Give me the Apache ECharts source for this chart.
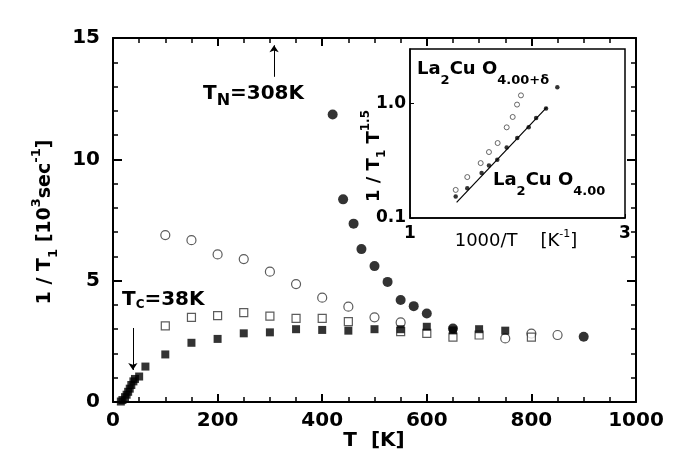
<!DOCTYPE html>
<html><head><meta charset="utf-8">
<script src="https://cdn.jsdelivr.net/npm/echarts@6/dist/echarts.min.js"></script>
<style>html,body{margin:0;padding:0;background:#fff}.layer{position:absolute;left:0;top:0;width:686px;height:467px}#axes{pointer-events:none}</style>
</head><body><div id="data" class="layer"></div><div id="axes" class="layer"></div>
<script>
// ---- main panel data (T in K, 1/T1 in 10^3 s^-1) ----
const filledCircleT = [420, 440, 460, 475, 500, 525, 550, 575, 600, 650, 900];
const filledCircleV = [11.85, 8.35, 7.35, 6.3, 5.6, 4.95, 4.2, 3.95, 3.65, 3.03, 2.69];
const openCircleT = [100, 150, 200, 250, 300, 350, 400, 450, 500, 550, 750, 800, 850];
const openCircleV = [6.88, 6.67, 6.08, 5.89, 5.37, 4.86, 4.30, 3.93, 3.49, 3.28, 2.62, 2.82, 2.76];
const openSquareT = [100, 150, 200, 250, 300, 350, 400, 450, 550, 600, 650, 700, 800];
const openSquareV = [3.14, 3.49, 3.56, 3.68, 3.54, 3.45, 3.45, 3.31, 2.9, 2.83, 2.67, 2.76, 2.67];
const filledSquareT = [15, 18, 23, 26, 29, 32, 35, 39, 42, 50, 62, 100, 150, 200, 250, 300, 350, 400, 450, 500, 550, 600, 650, 700, 750];
const filledSquareV = [0.02, 0.08, 0.2, 0.3, 0.42, 0.55, 0.7, 0.85, 0.95, 1.05, 1.46, 1.96, 2.44, 2.6, 2.83, 2.87, 3.0, 2.97, 2.94, 3.0, 3.0, 3.1, 2.95, 3.0, 2.94];
// ---- inset data (1000/T, 1/T1T^1.5) ----
const insetDopedX = [1.263, 1.340, 1.435, 1.497, 1.565, 1.639, 1.690, 1.728, 1.763];
const insetDopedY = [0.176, 0.228, 0.302, 0.377, 0.452, 0.620, 0.764, 0.980, 1.18];
const insetPureX = [1.263, 1.340, 1.442, 1.497, 1.562, 1.639, 1.730, 1.834, 1.905, 2.004, 2.123];
const insetPureY = [0.154, 0.182, 0.247, 0.288, 0.323, 0.414, 0.500, 0.620, 0.749, 0.904, 1.39];
const insetFitX = [1.269, 2.011];
const insetFitY = [0.137, 0.928];
// ---- axis ticks ----
const mainXTicks = {min: 0, max: 1000, interval: 200};
const mainYTicks = {min: 0, max: 15, interval: 5};
const insetXRange = {min: 1, max: 3};
const insetYRange = {min: 0.1, max: 3};
// ---- annotations (data coords) ----
const tNArrow = {T: 308, from: 13.4, to: 14.7};
const tCArrow = {T: 38, from: 3.05, to: 1.32};

const FONT = 'DejaVu Sans';
const zip = (a, b) => a.map((v, i) => [v, b[i]]);
const near = (v, t) => Math.abs(v - t) < 1e-3 * t;
const mainGrid = {left: 113, top: 38, right: 50, bottom: 65};

// ================= data layer =================
const dataChart = echarts.init(document.getElementById('data'), null, {renderer: 'canvas'});
dataChart.setOption({
  animation: false,
  backgroundColor: 'transparent',
  grid: [
    mainGrid,
    {left: 410, top: 49, width: 215, height: 169, show: true, backgroundColor: '#fff', borderColor: '#000', borderWidth: 1.5}
  ],
  xAxis: [
    {type: 'value', gridIndex: 0, show: false, min: mainXTicks.min, max: mainXTicks.max, interval: mainXTicks.interval},
    {
      type: 'log', logBase: 10, gridIndex: 1, position: 'bottom', min: insetXRange.min, max: insetXRange.max,
      axisLine: {show: true, onZero: false, lineStyle: {color: '#000', width: 1.5}},
      axisTick: {show: true, inside: true, length: 4, lineStyle: {color: '#000'}},
      splitLine: {show: false},
      axisLabel: {show: true, showMinLabel: true, showMaxLabel: true, margin: 7,
        fontFamily: FONT, fontWeight: 'bold', fontSize: 17, color: '#000',
        formatter: v => near(v, 1) ? '1' : (near(v, 3) ? '3' : '')}
    }
  ],
  yAxis: [
    {type: 'value', gridIndex: 0, show: false, min: mainYTicks.min, max: mainYTicks.max, interval: mainYTicks.interval},
    {
      type: 'log', logBase: 10, gridIndex: 1, position: 'left', min: insetYRange.min, max: insetYRange.max,
      axisLine: {show: true, onZero: false, lineStyle: {color: '#000', width: 1.5}},
      axisTick: {show: true, inside: true, length: 4, lineStyle: {color: '#000'}},
      splitLine: {show: false},
      axisLabel: {show: true, showMinLabel: true, showMaxLabel: false, margin: 4,
        fontFamily: FONT, fontWeight: 'bold', fontSize: 17, color: '#000',
        formatter: v => near(v, 1) ? '1.0' : (near(v, 0.1) ? '0.1' : '')}
    }
  ],
  series: [
    {type: 'scatter', name: 'open circles', xAxisIndex: 0, yAxisIndex: 0, data: zip(openCircleT, openCircleV),
      symbol: 'circle', symbolSize: 9, itemStyle: {color: '#fff', borderColor: '#333', borderWidth: 1.2}},
    {type: 'scatter', name: 'open squares', xAxisIndex: 0, yAxisIndex: 0, data: zip(openSquareT, openSquareV),
      symbol: 'rect', symbolSize: 8, itemStyle: {color: '#fff', borderColor: '#333', borderWidth: 1.2}},
    {type: 'scatter', name: 'filled squares', xAxisIndex: 0, yAxisIndex: 0, data: zip(filledSquareT, filledSquareV),
      symbol: 'rect', symbolSize: 8, itemStyle: {color: '#000'}},
    {type: 'scatter', name: 'filled circles', xAxisIndex: 0, yAxisIndex: 0, data: zip(filledCircleT, filledCircleV),
      symbol: 'circle', symbolSize: 10, itemStyle: {color: '#000'},
      markLine: {
        silent: true, animation: false, symbol: ['none', 'arrow'], symbolSize: 7,
        label: {show: false},
        lineStyle: {color: '#000', width: 1, type: 'solid'},
        data: [
          [{coord: [tNArrow.T, tNArrow.from]}, {coord: [tNArrow.T, tNArrow.to]}],
          [{coord: [tCArrow.T, tCArrow.from]}, {coord: [tCArrow.T, tCArrow.to]}]
        ]
      }},
    {type: 'line', name: 'fit', xAxisIndex: 1, yAxisIndex: 1, data: zip(insetFitX, insetFitY),
      showSymbol: false, symbol: 'none', lineStyle: {color: '#000', width: 1.2}},
    {type: 'scatter', name: 'inset doped', xAxisIndex: 1, yAxisIndex: 1, data: zip(insetDopedX, insetDopedY),
      symbol: 'circle', symbolSize: 5, itemStyle: {color: '#fff', borderColor: '#444', borderWidth: 1}},
    {type: 'scatter', name: 'inset pure', xAxisIndex: 1, yAxisIndex: 1, data: zip(insetPureX, insetPureY),
      symbol: 'circle', symbolSize: 4.5, itemStyle: {color: '#000'}}
  ],
  graphic: [
    {type: 'text', x: 203, y: 94, z: 10, style: {
      text: '{b|T}{s|N}{b|=308K}', align: 'left', verticalAlign: 'middle',
      rich: {
        b: {fontFamily: FONT, fontWeight: 'bold', fontSize: 20, fill: '#000', lineHeight: 30, verticalAlign: 'middle'},
        s: {fontFamily: FONT, fontWeight: 'bold', fontSize: 16, fill: '#000', lineHeight: 12, verticalAlign: 'bottom'}
      }}},
    {type: 'text', x: 122, y: 300, z: 10, style: {
      text: '{b|T}{s|C}{b|=38K}', align: 'left', verticalAlign: 'middle',
      rich: {
        b: {fontFamily: FONT, fontWeight: 'bold', fontSize: 20, fill: '#000', lineHeight: 22, verticalAlign: 'middle'},
        s: {fontFamily: FONT, fontWeight: 'bold', fontSize: 12, fill: '#000', lineHeight: 12, verticalAlign: 'bottom'}
      }}},
    {type: 'text', x: 417, y: 69, z: 10, style: {
      text: '{b|La}{s|2}{b|Cu O}{s|4.00+δ}', align: 'left', verticalAlign: 'middle',
      rich: {
        b: {fontFamily: FONT, fontWeight: 'bold', fontSize: 18, fill: '#000', lineHeight: 36, verticalAlign: 'middle'},
        s: {fontFamily: FONT, fontWeight: 'bold', fontSize: 13, fill: '#000', lineHeight: 12, verticalAlign: 'bottom'}
      }}},
    {type: 'text', x: 493, y: 180, z: 10, style: {
      text: '{b|La}{s|2}{b|Cu O}{s|4.00}', align: 'left', verticalAlign: 'middle',
      rich: {
        b: {fontFamily: FONT, fontWeight: 'bold', fontSize: 18, fill: '#000', lineHeight: 36, verticalAlign: 'middle'},
        s: {fontFamily: FONT, fontWeight: 'bold', fontSize: 13, fill: '#000', lineHeight: 12, verticalAlign: 'bottom'}
      }}},
    {type: 'text', x: 374, y: 156, rotation: Math.PI / 2, z: 10, style: {
      text: '{b|1 / T}{sub|1}{b| T}{sup|1.5}', align: 'center', verticalAlign: 'middle',
      rich: {
        b: {fontFamily: FONT, fontWeight: 'bold', fontSize: 18, fill: '#000', lineHeight: 28, verticalAlign: 'middle'},
        sub: {fontFamily: FONT, fontWeight: 'bold', fontSize: 12, fill: '#000', lineHeight: 12, verticalAlign: 'bottom'},
        sup: {fontFamily: FONT, fontWeight: 'bold', fontSize: 12, fill: '#000', lineHeight: 12, verticalAlign: 'top'}
      }}},
    {type: 'text', x: 516, y: 241, z: 10, style: {
      text: '{n|1000/T    [K}{sup|-1}{n|]}', align: 'center', verticalAlign: 'middle',
      rich: {
        n: {fontFamily: FONT, fontSize: 18, fill: '#000', lineHeight: 24, verticalAlign: 'middle'},
        sup: {fontFamily: FONT, fontSize: 11, fill: '#000', lineHeight: 10, verticalAlign: 'top'}
      }}},
    {type: 'text', x: 374, y: 441, z: 10, style: {
      text: 'T  [K]', align: 'center', verticalAlign: 'middle',
      fontFamily: FONT, fontWeight: 'bold', fontSize: 20, fill: '#000'}},
    {type: 'text', x: 45, y: 222, rotation: Math.PI / 2, z: 10, style: {
      text: '{b|1 / T}{sub|1}{b| [10}{sup|3}{b|sec}{sup|-1}{b|]}', align: 'center', verticalAlign: 'middle',
      rich: {
        b: {fontFamily: FONT, fontWeight: 'bold', fontSize: 19, fill: '#000', lineHeight: 30, verticalAlign: 'middle'},
        sub: {fontFamily: FONT, fontWeight: 'bold', fontSize: 13, fill: '#000', lineHeight: 12, verticalAlign: 'bottom'},
        sup: {fontFamily: FONT, fontWeight: 'bold', fontSize: 13, fill: '#000', lineHeight: 12, verticalAlign: 'top'}
      }}}
  ]
});

// ================= frame / axes layer =================
function frameLine(onZero) { return {show: true, onZero: onZero, lineStyle: {color: '#000', width: 2}}; }
function lbl(show, margin) { return {show: show, margin: margin, fontFamily: FONT, fontWeight: 'bold', fontSize: 20, color: '#000', formatter: v => String(v)}; }
function mainX(pos, show) {
  return {type: 'value', gridIndex: 0, position: pos, min: mainXTicks.min, max: mainXTicks.max, interval: mainXTicks.interval,
    axisLine: frameLine(pos === 'bottom'),
    axisTick: {show: true, inside: true, length: 8, lineStyle: {color: '#000', width: 2}},
    minorTick: {show: true, splitNumber: 4, length: 5, lineStyle: {color: '#000', width: 1.5}},
    splitLine: {show: false}, axisLabel: lbl(show, 9)};
}
function mainY(pos, show) {
  return {type: 'value', gridIndex: 0, position: pos, min: mainYTicks.min, max: mainYTicks.max, interval: mainYTicks.interval,
    axisLine: frameLine(pos === 'left'),
    axisTick: {show: true, inside: true, length: 9, lineStyle: {color: '#000', width: 2}},
    minorTick: {show: true, splitNumber: 5, length: 5, lineStyle: {color: '#000', width: 1.5}},
    splitLine: {show: false}, axisLabel: lbl(show, 13)};
}
const axesChart = echarts.init(document.getElementById('axes'), null, {renderer: 'canvas'});
axesChart.setOption({
  animation: false,
  backgroundColor: 'transparent',
  grid: [mainGrid],
  xAxis: [mainX('bottom', true), mainX('top', false)],
  yAxis: [mainY('left', true), mainY('right', false)],
  series: [{type: 'scatter', xAxisIndex: 0, yAxisIndex: 0, data: [], silent: true}]
});
</script></body></html>
